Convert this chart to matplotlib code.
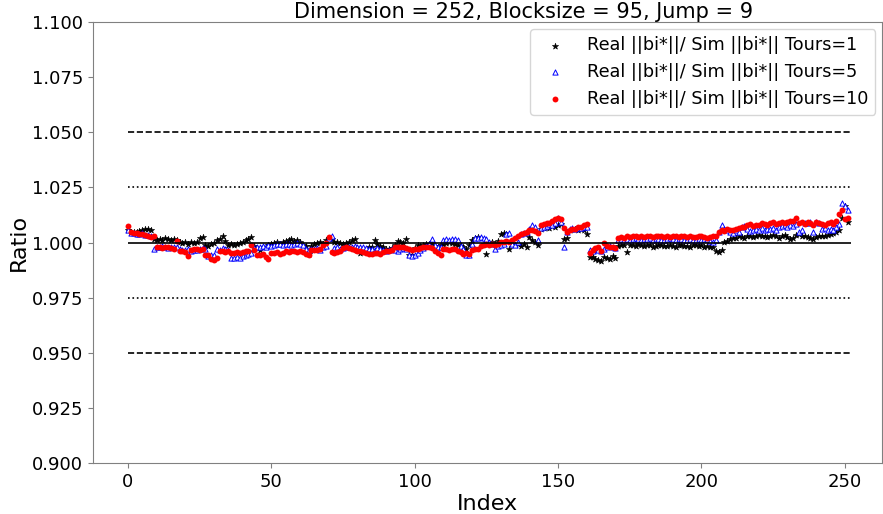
import numpy as np
import matplotlib
matplotlib.use('Agg')
import matplotlib.pyplot as plt

# ratio real/sim ||bi*|| per index
tours1 = [
    1.0058, 1.0050, 1.0048, 1.0046, 1.0052, 1.0055, 1.0060, 1.0062, 1.0057, 1.0015,
    1.0010, 1.0018, 1.0013, 1.0020, 1.0016, 1.0010, 1.0018, 1.0012, 1.0005, 0.9998,
    1.0002, 0.9995, 1.0005, 0.9998, 1.0003, 1.0020, 1.0026, 0.9990, 0.9985, 0.9992,
    1.0000, 1.0010, 1.0018, 1.0028, 1.0008, 0.9990, 0.9995, 0.9988, 0.9995, 1.0000,
    1.0005, 1.0010, 1.0015, 1.0026, 0.9985, 0.9975, 0.9966, 0.9978, 0.9982, 0.9990,
    0.9995, 0.9998, 1.0002, 0.9995, 1.0005, 1.0008, 1.0012, 1.0015, 1.0008, 1.0012,
    1.0005, 0.9990, 0.9985, 0.9950, 0.9985, 0.9992, 0.9998, 1.0005, 0.9995, 1.0010,
    1.0020, 1.0015, 1.0005, 1.0004, 0.9996, 0.9992, 0.9998, 1.0005, 1.0010, 1.0018,
    0.9965, 0.9952, 0.9962, 0.9968, 0.9978, 0.9982, 1.0012, 0.9995, 0.9985, 0.9978,
    0.9972, 0.9970, 0.9975, 0.9990, 1.0008, 1.0005, 1.0000, 1.0017, 0.9945, 0.9942,
    0.9975, 0.9988, 0.9985, 0.9990, 0.9992, 0.9995, 0.9998, 0.9985, 0.9982, 0.9990,
    0.9995, 1.0000, 1.0002, 0.9996, 0.9992, 0.9990, 0.9985, 0.9980, 0.9970, 0.9990,
    1.0010, 1.0022, 1.0025, 1.0020, 0.9995, 0.9950, 0.9998, 1.0002, 0.9995, 1.0008,
    1.0040, 1.0042, 1.0038, 0.9970, 0.9992, 0.9990, 0.9995, 0.9985, 0.9992, 0.9982,
    1.0025, 1.0010, 1.0002, 0.9990, 1.0060, 1.0068, 1.0072, 1.0065, 1.0075, 1.0070,
    1.0080, 1.0085, 1.0015, 1.0020, 1.0058, 1.0062, 1.0060, 1.0055, 1.0062, 1.0058,
    1.0040, 0.9936, 0.9935, 0.9925, 0.9920, 0.9918, 0.9935, 0.9928, 0.9925, 0.9938,
    0.9932, 0.9985, 0.9990, 0.9988, 0.9958, 0.9988, 0.9990, 0.9985, 0.9992, 0.9988,
    0.9985, 0.9990, 0.9988, 0.9980, 0.9985, 0.9988, 0.9990, 0.9983, 0.9986, 0.9990,
    0.9985, 0.9980, 0.9988, 0.9990, 0.9984, 0.9986, 0.9982, 0.9988, 0.9990, 0.9985,
    0.9988, 0.9982, 0.9985, 0.9980, 0.9982, 0.9962, 0.9958, 0.9965, 1.0005, 1.0008,
    1.0018, 1.0020, 1.0022, 1.0030, 1.0025, 1.0020, 1.0032, 1.0028, 1.0024, 1.0030,
    1.0035, 1.0030, 1.0028, 1.0025, 1.0030, 1.0035, 1.0028, 1.0022, 1.0030, 1.0036,
    1.0025, 1.0018, 1.0022, 1.0035, 1.0040, 1.0030, 1.0028, 1.0025, 1.0020, 1.0018,
    1.0025, 1.0030, 1.0032, 1.0028, 1.0035, 1.0040, 1.0045, 1.0050, 1.0055, 1.0110,
    1.0165, 1.0095,
]

tours5 = [
    1.0055, 1.0045, 1.0042, 1.0040, 1.0038, 1.0042, 1.0036, 1.0035, 1.0030, 0.9970,
    0.9982, 0.9978, 0.9985, 0.9980, 0.9975, 0.9982, 0.9978, 0.9980, 0.9972, 0.9968,
    0.9965, 0.9970, 0.9962, 0.9968, 0.9965, 0.9970, 0.9975, 0.9972, 0.9940, 0.9942,
    0.9945, 0.9970, 0.9968, 0.9975, 0.9972, 0.9965, 0.9932, 0.9930, 0.9935, 0.9932,
    0.9940, 0.9945, 0.9950, 0.9955, 0.9975, 0.9978, 0.9980, 0.9985, 0.9982, 0.9988,
    0.9985, 0.9990, 0.9992, 0.9995, 0.9990, 0.9992, 0.9995, 0.9990, 0.9995, 0.9998,
    0.9995, 0.9990, 0.9970, 0.9968, 0.9972, 0.9970, 0.9975, 0.9968, 0.9980, 0.9985,
    1.0020, 1.0030, 0.9975, 0.9978, 0.9970, 0.9975, 0.9980, 0.9978, 0.9982, 0.9985,
    0.9980, 0.9978, 0.9982, 0.9975, 0.9970, 0.9972, 0.9968, 0.9975, 0.9972, 0.9965,
    0.9962, 0.9968, 0.9970, 0.9965, 0.9960, 0.9972, 0.9975, 0.9970, 0.9945, 0.9940,
    0.9942, 0.9955, 0.9965, 0.9975, 0.9985, 0.9995, 1.0015, 0.9990, 0.9980, 0.9978,
    1.0010, 1.0015, 1.0012, 1.0018, 1.0015, 1.0010, 0.9985, 0.9970, 0.9942, 0.9945,
    0.9995, 1.0020, 1.0022, 1.0025, 1.0020, 1.0015, 1.0005, 0.9995, 0.9970, 0.9985,
    0.9990, 0.9995, 1.0038, 1.0042, 0.9995, 0.9990, 1.0002, 1.0040, 1.0045, 1.0050,
    1.0062, 1.0080, 1.0070, 1.0012, 1.0065, 1.0070, 1.0075, 1.0085, 1.0080, 1.0090,
    1.0110, 1.0095, 0.9980, 1.0050, 1.0060, 1.0065, 1.0062, 1.0068, 1.0065, 1.0072,
    1.0070, 0.9968, 0.9962, 0.9970, 0.9965, 0.9960, 0.9972, 0.9978, 0.9985, 0.9980,
    0.9975, 1.0012, 1.0015, 1.0010, 1.0018, 1.0012, 1.0015, 1.0020, 1.0015, 1.0012,
    1.0018, 1.0015, 1.0020, 1.0012, 1.0016, 1.0018, 1.0014, 1.0010, 1.0015, 1.0020,
    1.0016, 1.0012, 1.0018, 1.0015, 1.0010, 1.0014, 1.0018, 1.0012, 1.0010, 1.0015,
    1.0012, 1.0018, 1.0015, 1.0008, 1.0005, 1.0012, 1.0050, 1.0080, 1.0060, 1.0055,
    1.0050, 1.0045, 1.0055, 1.0048, 1.0070, 1.0075, 1.0060, 1.0052, 1.0055, 1.0060,
    1.0058, 1.0065, 1.0055, 1.0062, 1.0060, 1.0068, 1.0058, 1.0072, 1.0075, 1.0080,
    1.0070, 1.0078, 1.0075, 1.0085, 1.0050, 1.0055, 1.0090, 1.0088, 1.0092, 1.0050,
    1.0095, 1.0090, 1.0060, 1.0065, 1.0055, 1.0062, 1.0058, 1.0070, 1.0085, 1.0180,
    1.0165, 1.0150,
]

tours10 = [
    1.0076, 1.0048, 1.0044, 1.0042, 1.0040, 1.0038, 1.0035, 1.0032, 1.0025, 1.0030,
    0.9980, 0.9978, 0.9975, 0.9980, 0.9978, 0.9975, 0.9972, 1.0008, 0.9962, 0.9960,
    0.9958, 0.9940, 0.9968, 0.9972, 0.9970, 0.9968, 0.9972, 0.9945, 0.9942, 0.9925,
    0.9922, 0.9928, 0.9960, 0.9962, 0.9958, 0.9960, 0.9955, 0.9952, 0.9956, 0.9955,
    0.9958, 0.9960, 0.9962, 0.9990, 0.9965, 0.9945, 0.9942, 0.9948, 0.9935, 0.9925,
    0.9955, 0.9952, 0.9956, 0.9950, 0.9955, 0.9960, 0.9958, 0.9962, 0.9960, 0.9958,
    0.9962, 0.9958, 0.9950, 0.9945, 0.9965, 0.9968, 0.9965, 0.9970, 0.9990, 0.9998,
    1.0025, 0.9958, 0.9955, 0.9958, 0.9962, 0.9975, 0.9978, 0.9975, 0.9970, 0.9965,
    0.9960, 0.9962, 0.9958, 0.9952, 0.9950, 0.9948, 0.9952, 0.9955, 0.9950, 0.9958,
    0.9960, 0.9962, 0.9965, 0.9980, 0.9982, 0.9978, 0.9980, 0.9975, 0.9970, 0.9968,
    0.9972, 0.9970, 0.9975, 0.9980, 0.9982, 0.9978, 0.9975, 0.9962, 0.9955, 0.9942,
    0.9970, 0.9972, 0.9968, 0.9970, 0.9972, 0.9960, 0.9958, 0.9950, 0.9952, 0.9948,
    0.9968, 0.9972, 0.9970, 0.9985, 0.9990, 0.9992, 0.9988, 0.9995, 0.9990, 0.9992,
    1.0005, 1.0002, 1.0008, 1.0005, 1.0010, 1.0022, 1.0030, 1.0038, 1.0042, 1.0050,
    1.0055, 1.0058, 1.0052, 1.0045, 1.0078, 1.0085, 1.0090, 1.0088, 1.0100, 1.0105,
    1.0112, 1.0108, 1.0068, 1.0050, 1.0055, 1.0060, 1.0062, 1.0070, 1.0072, 1.0080,
    1.0085, 0.9955, 0.9968, 0.9975, 0.9980, 0.9960, 1.0000, 0.9985, 0.9978, 0.9982,
    0.9975, 1.0020, 1.0025, 1.0022, 1.0028, 1.0025, 1.0030, 1.0028, 1.0025, 1.0030,
    1.0026, 1.0030, 1.0028, 1.0025, 1.0030, 1.0032, 1.0028, 1.0025, 1.0030, 1.0026,
    1.0030, 1.0028, 1.0025, 1.0032, 1.0028, 1.0025, 1.0030, 1.0026, 1.0024, 1.0028,
    1.0030, 1.0026, 1.0022, 1.0025, 1.0028, 1.0030, 1.0050, 1.0055, 1.0052, 1.0060,
    1.0055, 1.0058, 1.0062, 1.0068, 1.0070, 1.0072, 1.0080, 1.0085, 1.0075, 1.0078,
    1.0082, 1.0090, 1.0085, 1.0080, 1.0088, 1.0092, 1.0085, 1.0090, 1.0095, 1.0088,
    1.0092, 1.0098, 1.0100, 1.0110, 1.0090, 1.0095, 1.0085, 1.0092, 1.0088, 1.0080,
    1.0095, 1.0090, 1.0085, 1.0080, 1.0088, 1.0092, 1.0085, 1.0100, 1.0130, 1.0150,
    1.0105, 1.0110,
]

dimension = 252
idx = np.arange(len(tours1))

fig = plt.figure(figsize=(8.83, 5.14), dpi=100)
ax = fig.add_axes([0.105, 0.099, 0.894, 0.858])

ax.scatter(idx, tours1, marker='*', s=22, c='black', linewidths=0.4,
           label='Real ||bi*||/ Sim ||bi*|| Tours=1')
ax.scatter(idx, tours5, marker='^', s=14, facecolors='white', edgecolors='blue',
           linewidths=0.7, label='Real ||bi*||/ Sim ||bi*|| Tours=5')
ax.scatter(idx, tours10, marker='o', s=18, c='red', linewidths=0,
           label='Real ||bi*||/ Sim ||bi*|| Tours=10')

# reference lines
ax.hlines(1.0, 0, dimension, colors='black', linewidth=1.2)
ax.hlines([1.05, 0.95], 0, dimension, colors='black', linestyles='dashed', linewidth=1.2)
ax.hlines([1.025, 0.975], 0, dimension, colors='black', linestyles='dotted', linewidth=1.2)

ax.set_ylim(0.9, 1.1)
ax.set_yticks(np.arange(0.9, 1.1001, 0.025))
ax.set_yticklabels(['%.3f' % v for v in np.arange(0.9, 1.1001, 0.025)])
ax.set_xlim(-12.3, 263)
ax.tick_params(labelsize=13, color='#808080')
for sp in ax.spines.values():
    sp.set_color('#808080')

ax.set_title('Dimension = %d, Blocksize = 95, Jump = 9' % dimension, fontsize=15,
             pad=2, x=0.546)
ax.set_xlabel('Index', fontsize=16, labelpad=2)
ax.set_ylabel('Ratio', fontsize=16, labelpad=2)
ax.legend(loc='upper right', fontsize=12.7, markerscale=1.0, borderaxespad=0.4,
          handletextpad=0.8, labelspacing=0.5)

fig.savefig('out.png', dpi=100)
